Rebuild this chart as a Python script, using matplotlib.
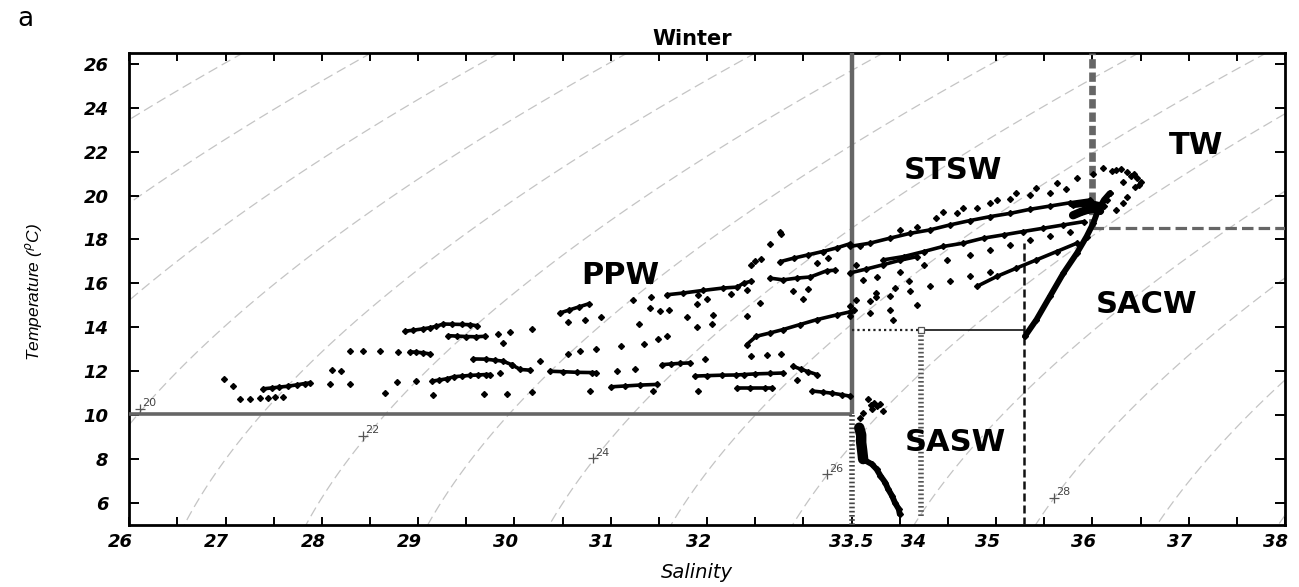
import numpy as np
import matplotlib
matplotlib.use("Agg")
import matplotlib.pyplot as plt
from matplotlib.transforms import ScaledTranslation

# ------------------------------------------------------------------ data
# axis ticks / labels
xtick_vals = [26, 27, 28, 29, 30, 31, 32, 33.5, 34, 35, 36, 37, 38]
xtick_text = ["26", "27", "28", "29", "30", "31", "32", "33.5", "34", "35", "36", "37", "38"]
ytick_vals = [6, 8, 10, 12, 14, 16, 18, 20, 22, 24, 26]

# isopycnal labels (sigma-t) and where they are written
iso_label_vals = [20, 22, 24, 26, 28]
iso_label_S = [26.11, 28.43, 30.82, 33.25, 35.60]
iso_label_T = [10.30, 9.05, 8.04, 7.31, 6.25]

# water-mass boundaries
bound_S_ppw = 33.5
bound_T_ppw = 10.05
bound_S_sasw = 34.22
bound_T_sacw = 13.9
bound_S_sacw = 35.29
bound_T_sacw_top = 17.85
bound_S_tw = 36.0
bound_T_tw = 18.5

# scattered single observations
dots_S = [26.98, 27.08, 27.15, 27.25, 27.36, 27.44, 27.51, 27.60, 28.08, 28.29,
          28.10, 28.20, 28.29, 28.43, 28.60, 28.79, 28.66, 28.78, 28.98, 29.15,
          29.83, 29.95, 30.18, 29.88, 30.56, 30.68, 30.85, 31.11, 31.34, 31.49,
          31.58, 29.85, 29.68, 29.92, 30.18, 30.78, 31.44, 31.91, 31.23, 31.42,
          31.29, 31.41, 31.51, 31.60, 30.56, 30.73, 30.90, 31.79, 31.89, 32.05,
          32.06, 32.41, 32.55, 31.91, 32.00, 31.89, 32.25, 32.41, 32.89, 33.05,
          33.00, 32.76, 32.77, 32.65, 32.46, 32.56, 32.50, 33.14, 33.26, 32.46,
          32.62, 32.77, 31.98, 32.93, 29.97, 30.26, 31.06, 31.25,
          33.59, 33.55, 33.62, 33.52, 34.18, 33.90, 33.93, 33.48, 33.69, 33.75,
          33.55, 33.75, 33.95, 34.10,
          33.67, 33.73, 33.80, 33.71, 33.83, 33.62, 33.59, 33.76, 33.70,
          36.11, 36.25, 36.36, 36.43, 36.46, 36.50, 36.44, 36.32, 36.18, 36.15,
          36.12, 36.36, 36.32, 36.25, 36.20, 36.30, 36.40, 36.48]
dots_T = [11.66, 11.35, 10.72, 10.75, 10.78, 10.79, 10.82, 10.82, 11.40, 11.43,
          12.05, 12.02, 12.94, 12.91, 12.91, 12.88, 10.99, 11.50, 11.55, 10.94,
          13.71, 13.79, 13.94, 13.29, 12.80, 12.91, 13.02, 13.14, 13.26, 13.47,
          13.59, 11.90, 10.97, 10.97, 11.05, 11.10, 11.10, 11.10, 15.26, 15.36,
          14.17, 14.88, 14.76, 14.80, 14.23, 14.35, 14.47, 14.47, 14.00, 14.15,
          14.57, 14.53, 15.10, 15.48, 15.29, 15.07, 15.51, 15.68, 15.63, 15.74,
          15.29, 18.36, 18.24, 17.78, 16.85, 17.10, 17.00, 16.92, 17.15, 12.68,
          12.76, 12.80, 12.56, 11.62, 12.30, 12.46, 12.00, 12.12,
          17.68, 16.84, 16.16, 14.80, 15.03, 14.80, 14.35, 14.50, 14.65, 15.40,
          15.26, 15.55, 15.80, 16.09,
          10.72, 10.57, 10.49, 10.26, 10.19, 10.11, 9.88, 10.40, 10.45,
          21.23, 21.16, 21.08, 21.00, 20.78, 20.63, 20.40, 20.63, 20.10, 19.80,
          19.50, 19.95, 19.64, 19.34, 21.10, 21.20, 20.90, 20.50]

# dotted profiles (individual points, spaced)
dotted1_S = [34.00, 34.18, 34.38, 34.59, 34.80, 35.01, 35.21, 35.42, 35.63, 35.84, 36.01]
dotted1_T = [18.43, 18.55, 18.96, 19.19, 19.42, 19.80, 20.13, 20.32, 20.55, 20.78, 20.97]
dotted2_S = [34.45, 34.66, 34.94, 35.15, 35.35, 35.56, 35.73]
dotted2_T = [19.27, 19.42, 19.64, 19.83, 20.02, 20.13, 20.28]
dotted3_S = [33.48, 33.69, 33.90, 34.11, 34.31, 34.52, 34.73, 34.94]
dotted3_T = [14.95, 15.18, 15.41, 15.63, 15.86, 16.09, 16.32, 16.54]
dotted4_S = [33.76, 34.00, 34.25, 34.49, 34.73, 34.94, 35.15, 35.35, 35.56, 35.77]
dotted4_T = [16.30, 16.54, 16.84, 17.07, 17.30, 17.53, 17.75, 17.98, 18.16, 18.36]

# dense profiles (points touching each other)
ppw1_S = [27.39, 27.48, 27.56, 27.65, 27.74, 27.82, 27.88]
ppw1_T = [11.20, 11.24, 11.28, 11.32, 11.38, 11.44, 11.47]
ppw2_S = [28.91, 28.98, 29.05, 29.12]
ppw2_T = [12.88, 12.87, 12.84, 12.79]
ppw3_S = [28.86, 28.95, 29.05, 29.12, 29.19, 29.26, 29.35, 29.45, 29.54, 29.61]
ppw3_T = [13.82, 13.87, 13.93, 13.98, 14.05, 14.15, 14.14, 14.13, 14.12, 14.07]
ppw4_S = [29.31, 29.40, 29.50, 29.60, 29.69]
ppw4_T = [13.62, 13.60, 13.58, 13.57, 13.59]
ppw5_S = [29.14, 29.22, 29.30, 29.37, 29.45, 29.54, 29.62, 29.70, 29.75]
ppw5_T = [11.55, 11.60, 11.66, 11.75, 11.78, 11.81, 11.83, 11.85, 11.85]
ppw6_S = [29.57, 29.70, 29.80, 29.88, 29.97, 30.06, 30.16]
ppw6_T = [12.56, 12.55, 12.50, 12.46, 12.30, 12.08, 12.05]
ppw7_S = [30.37, 30.50, 30.65, 30.80, 30.85]
ppw7_T = [12.00, 11.98, 11.95, 11.94, 11.93]
ppw8_S = [31.53, 31.62, 31.72, 31.82]
ppw8_T = [12.30, 12.33, 12.36, 12.38]
ppw9_S = [31.87, 32.00, 32.15, 32.30, 32.38, 32.50, 32.65, 32.79]
ppw9_T = [11.78, 11.80, 11.82, 11.83, 11.85, 11.88, 11.90, 11.92]
ppw10_S = [32.89, 32.97, 33.05, 33.14]
ppw10_T = [12.23, 12.10, 11.98, 11.85]
ppw11_S = [31.00, 31.15, 31.30, 31.48]
ppw11_T = [11.29, 11.33, 11.37, 11.40]
ppw12_S = [32.31, 32.45, 32.60, 32.67]
ppw12_T = [11.25, 11.25, 11.25, 11.25]
ppw13_S = [33.09, 33.20, 33.30, 33.40, 33.48]
ppw13_T = [11.10, 11.05, 11.00, 10.93, 10.87]
ppw14_S = [30.47, 30.57, 30.67, 30.77]
ppw14_T = [14.65, 14.79, 14.93, 15.07]
ppw15_S = [31.58, 31.75, 31.96, 32.17, 32.31, 32.38, 32.46]
ppw15_T = [15.48, 15.56, 15.68, 15.79, 15.83, 16.01, 16.10]
ppw16_S = [32.65, 32.79, 32.93, 33.07, 33.24, 33.33]
ppw16_T = [16.24, 16.16, 16.24, 16.29, 16.57, 16.60]
ppw17_S = [32.76, 32.90, 33.05, 33.20, 33.35, 33.48]
ppw17_T = [16.99, 17.15, 17.30, 17.45, 17.62, 17.80]
ppw18_S = [32.41, 32.51, 32.65, 32.79, 32.96, 33.14, 33.35, 33.48]
ppw18_T = [13.21, 13.59, 13.74, 13.90, 14.12, 14.35, 14.57, 14.70]
stsw1_S = [33.48, 33.69, 33.90, 34.11, 34.31, 34.52, 34.73, 34.94, 35.15, 35.35, 35.56, 35.77, 35.98]
stsw1_T = [17.68, 17.83, 18.06, 18.28, 18.43, 18.66, 18.86, 19.04, 19.19, 19.37, 19.52, 19.67, 19.80]
stsw2_S = [33.83, 34.04, 34.25, 34.45, 34.66, 34.87, 35.08, 35.28, 35.49, 35.70, 35.91]
stsw2_T = [17.07, 17.22, 17.45, 17.68, 17.83, 18.06, 18.21, 18.36, 18.51, 18.66, 18.81]
stsw3_S = [34.80, 35.01, 35.21, 35.42, 35.63, 35.84]
stsw3_T = [15.86, 16.32, 16.69, 17.07, 17.45, 17.83]
stsw4_S = [33.48, 33.65, 33.83, 34.00, 34.18]
stsw4_T = [16.47, 16.65, 16.85, 17.05, 17.22]
core1_S = [35.80, 35.88, 35.95, 36.02, 36.08]
core1_T = [19.10, 19.25, 19.35, 19.40, 19.30]
core2_S = [35.80, 35.90, 36.00, 36.10]
core2_T = [19.55, 19.60, 19.65, 19.55]
sacw_S = [35.30, 35.42, 35.56, 35.70, 35.84, 35.94, 36.01, 36.06, 36.12, 36.18]
sacw_T = [13.59, 14.35, 15.41, 16.47, 17.38, 18.13, 18.74, 19.34, 19.80, 20.10]
sasw_blob_S = [33.58, 33.60, 33.60, 33.61, 33.62]
sasw_blob_T = [9.43, 9.10, 8.75, 8.40, 8.00]
sasw_tail_S = [33.62, 33.71, 33.76, 33.80, 33.85, 33.88, 33.92, 33.95, 33.99, 34.00]
sasw_tail_T = [7.99, 7.77, 7.54, 7.24, 6.93, 6.63, 6.33, 6.02, 5.72, 5.50]

dotted_profiles = [(dotted1_S, dotted1_T), (dotted2_S, dotted2_T),
                   (dotted3_S, dotted3_T), (dotted4_S, dotted4_T)]
dense_profiles = [(ppw1_S, ppw1_T), (ppw2_S, ppw2_T), (ppw3_S, ppw3_T), (ppw4_S, ppw4_T),
                  (ppw5_S, ppw5_T), (ppw6_S, ppw6_T), (ppw7_S, ppw7_T), (ppw8_S, ppw8_T),
                  (ppw9_S, ppw9_T), (ppw10_S, ppw10_T), (ppw11_S, ppw11_T), (ppw12_S, ppw12_T),
                  (ppw13_S, ppw13_T), (ppw14_S, ppw14_T), (ppw15_S, ppw15_T), (ppw16_S, ppw16_T),
                  (ppw17_S, ppw17_T), (ppw18_S, ppw18_T), (stsw1_S, stsw1_T), (stsw2_S, stsw2_T),
                  (stsw3_S, stsw3_T), (stsw4_S, stsw4_T)]


# ------------------------------------------------------------------ helpers
def sigma_t(S, T):
    """UNESCO 1980 density at p=0 minus 1000."""
    rw = (999.842594 + 6.793952e-2 * T - 9.095290e-3 * T**2 + 1.001685e-4 * T**3
          - 1.120083e-6 * T**4 + 6.536332e-9 * T**5)
    A = 8.24493e-1 - 4.0899e-3 * T + 7.6438e-5 * T**2 - 8.2467e-7 * T**3 + 5.3875e-9 * T**4
    B = -5.72466e-3 + 1.0227e-4 * T - 1.6546e-6 * T**2
    C = 4.8314e-4
    return rw + A * S + B * S**1.5 + C * S**2 - 1000.0


# ------------------------------------------------------------------ figure
fig = plt.figure(figsize=(12.99, 5.87), dpi=100)
ax = fig.add_axes([0.0995, 0.1056, 0.8897, 0.8046])
ax.set_xlim(26, 38)
ax.set_ylim(5.0, 26.5)

# isopycnals
Sg, Tg = np.meshgrid(np.linspace(26, 38, 300), np.linspace(5, 26.5, 300))
cs = ax.contour(Sg, Tg, sigma_t(Sg, Tg), levels=np.arange(15, 31, 1),
                colors="#c4c4c4", linewidths=0.9, zorder=1)
cs.set_linestyle((0, (8, 4)))
for v, s, t in zip(iso_label_vals, iso_label_S, iso_label_T):
    ax.plot(s, t, marker="+", ms=7, mew=0.9, color="#555555", zorder=2)
    ax.annotate(str(v), (s, t), xytext=(1.5, 0.5), textcoords="offset points",
                ha="left", va="bottom", fontsize=8, color="#444444",
                family="DejaVu Sans", zorder=2)

# boundaries
grey = "#666666"
ax.plot([26, bound_S_ppw], [bound_T_ppw, bound_T_ppw], color=grey, lw=2.6,
        solid_capstyle="butt", zorder=3)
ax.plot([bound_S_ppw, bound_S_ppw], [bound_T_ppw, 26.5], color=grey, lw=3.2,
        solid_capstyle="butt", zorder=3)
ax.plot([bound_S_ppw, bound_S_ppw], [5.0, bound_T_ppw], color="#444444", lw=4.0,
        ls=(0, (0.3, 0.45)), zorder=3)
ax.plot([bound_S_sasw, bound_S_sasw], [5.4, bound_T_sacw], color="#555555", lw=4.0,
        ls=(0, (0.3, 0.45)), zorder=3)
ax.plot([bound_S_ppw, bound_S_sasw], [bound_T_sacw, bound_T_sacw], color="#222222",
        lw=1.6, ls=(0, (1, 1.4)), zorder=3)
ax.plot([bound_S_sasw, bound_S_sacw], [bound_T_sacw, bound_T_sacw], color="#111111",
        lw=1.2, zorder=3)
ax.plot(bound_S_sasw, bound_T_sacw, marker="s", ms=4, mfc="white", mec="#555555",
        mew=0.9, zorder=3)
ax.plot([bound_S_sacw, bound_S_sacw], [5.0, bound_T_sacw_top], color="#111111", lw=1.8,
        ls=(0, (3.2, 1.6)), zorder=3)
ax.plot([bound_S_tw, bound_S_tw], [bound_T_tw, 26.5], color=grey, lw=4.8,
        ls=(0, (1.4, 0.6)), zorder=3)
ax.plot([bound_S_tw, 38], [bound_T_tw, bound_T_tw], color=grey, lw=2.3,
        ls=(0, (3.6, 1.6)), zorder=3)

# observations
mk = dict(marker="D", ms=3.0, color="black", mec="black", zorder=5)
ax.plot(dots_S, dots_T, ls="none", **mk)
for s, t in dotted_profiles:
    ax.plot(s, t, ls="none", **mk)
for s, t in dense_profiles:
    ax.plot(s, t, ls="-", lw=2.6, solid_capstyle="round", **mk)
ax.plot(core1_S, core1_T, ls="-", lw=6, solid_capstyle="round", **mk)
ax.plot(core2_S, core2_T, ls="-", lw=4, solid_capstyle="round", **mk)
ax.plot(sacw_S, sacw_T, ls="-", lw=4.2, solid_capstyle="round", **mk)
ax.plot(sasw_blob_S, sasw_blob_T, ls="-", lw=7.5, solid_capstyle="round", **mk)
ax.plot(sasw_tail_S, sasw_tail_T, ls="-", lw=4.2, solid_capstyle="round", **mk)

# water-mass names
wm_font = dict(fontsize=22, fontweight="bold", family="DejaVu Sans", color="black",
               ha="center", va="center", zorder=6)
ax.text(37.08, 22.29, "TW", **wm_font)
ax.text(34.55, 21.15, "STSW", **wm_font)
ax.text(36.56, 15.03, "SACW", **wm_font)
ax.text(34.58, 8.75, "SASW", **wm_font)
ax.text(31.10, 16.35, "PPW", **wm_font)

# axes styling
for sp in ax.spines.values():
    sp.set_linewidth(2.0)
ax.set_xticks(np.arange(26, 38.01, 0.5))
lab_map = dict(zip(xtick_vals, xtick_text))
ax.set_xticklabels([lab_map.get(round(v, 1), "") for v in np.arange(26, 38.01, 0.5)])
ax.set_yticks(ytick_vals)
ax.set_yticklabels([str(v) for v in ytick_vals])
ax.tick_params(axis="x", direction="in", length=5.5, width=1.4, top=True, pad=6,
               labelsize=13)
ax.tick_params(axis="y", direction="in", length=7.5, width=1.4, right=True, pad=15,
               labelsize=13)
for lbl in ax.get_xticklabels() + ax.get_yticklabels():
    lbl.set_fontweight("bold")
    lbl.set_fontstyle("italic")
    lbl.set_family("DejaVu Sans")
for v, lbl in zip(np.arange(26, 38.01, 0.5), ax.get_xticklabels()):
    txt = lab_map.get(round(v, 1), "")
    dx = -9 if txt not in ("33.5", "34") else (0 if txt == "33.5" else 14)
    lbl.set_transform(lbl.get_transform() + ScaledTranslation(dx / 100, 0, fig.dpi_scale_trans))

# titles and labels
fig.text(692 / 1299, 1 - 39 / 587, "Winter", ha="center", va="center",
         fontsize=15, fontweight="bold", family="DejaVu Sans")
fig.text(697 / 1299, 1 - 572 / 587, "Salinity", ha="center", va="center",
         fontsize=14, style="italic", family="DejaVu Sans")
fig.text(34 / 1299, 1 - 292 / 587, "Temperature ($^{\\rho}$C)", ha="center", va="center",
         rotation=90, fontsize=12.5, style="italic", family="Liberation Sans")
fig.text(25 / 1299, 1 - 19 / 587, "a", ha="center", va="center", fontsize=19,
         family="DejaVu Sans")

fig.savefig("out.png", dpi=100)
